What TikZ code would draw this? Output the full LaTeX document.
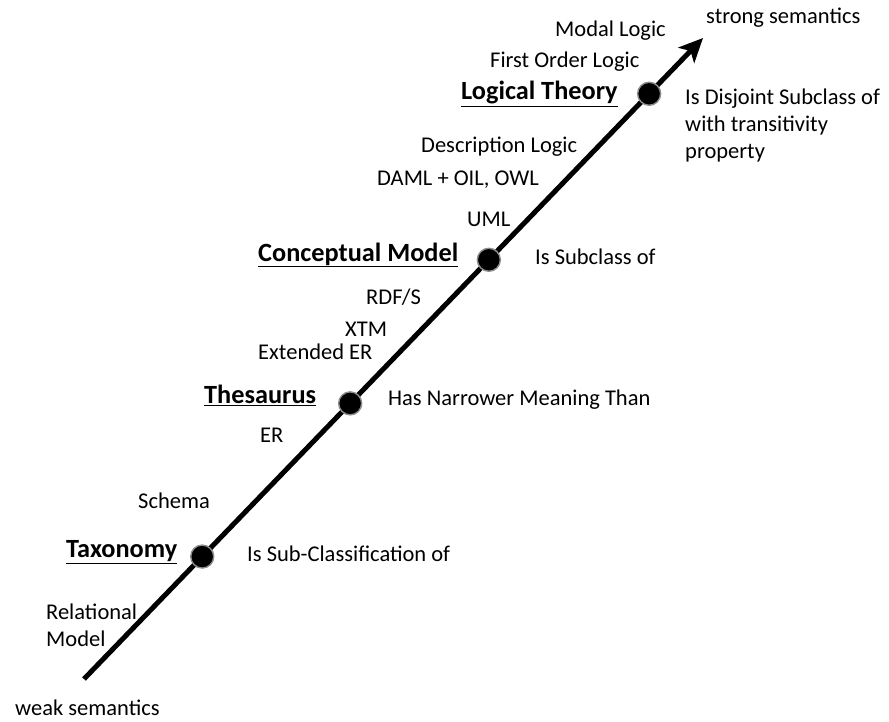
\documentclass[tikz,border=0pt]{standalone}
\usepackage{fontspec}
\setmainfont{Carlito}
\usetikzlibrary{arrows.meta,calc}
\begin{document}
\begin{tikzpicture}[x=1pt,y=-1pt,
  lbl/.style={inner sep=0pt,anchor=west,font=\fontsize{22.5}{27}\selectfont},
  level/.style={inner sep=0pt,anchor=west,font=\fontsize{26.3}{30}\selectfont\bfseries},
  dot/.style={circle,fill=black,draw=black!45,line width=1.4pt,minimum size=23pt,inner sep=0pt},
  axis/.style={line width=5pt,-{Stealth[length=24pt,width=22pt,inset=6pt]}}]
\useasboundingbox (0,0) rectangle (889,722);

% semantic scale
\coordinate (start) at (84,679);
\coordinate (tip) at (703,38);
\draw[axis] (start) -- (tip);

\node[dot] (tax) at ($(start)!0.191!(tip)$) {};
\node[dot] (the) at ($(start)!0.430!(tip)$) {};
\node[dot] (con) at ($(start)!0.654!(tip)$) {};
\node[dot] (log) at ($(start)!0.913!(tip)$) {};

% levels
\node[level] (ltax) at (66,552) {\underline{Taxonomy}};
\node[level] (lthe) at (204,395) {\underline{Thesaurus}};
\node[level] (lcon) at (258,255) {\underline{Conceptual Model}};
\node[level] (llog) at (461,94) {\underline{Logical Theory}};

% relations
\node[lbl] (rtax) at (247,554) {Is Sub-Classification of};
\node[lbl] (rthe) at (388,400) {Has Narrower Meaning Than};
\node[lbl] (rcon) at (535,257) {Is Subclass of};
\node[lbl,align=left,anchor=north west] (rlog) at (685,89) {Is Disjoint Subclass of\\with transitivity\\property};

% languages
\node[lbl,align=left,anchor=north west] (relm) at (46,604) {Relational\\Model};
\node[lbl] (sch) at (138,501) {Schema};
\node[lbl] (er) at (260,435) {ER};
\node[lbl] (eer) at (258,352) {Extended ER};
\node[lbl] (xtm) at (345,329) {XTM};
\node[lbl] (rdf) at (366,297) {RDF/S};
\node[lbl] (uml) at (467,219) {UML};
\node[lbl] (daml) at (377,180) {DAML + OIL, OWL};
\node[lbl] (dl) at (421,147) {Description Logic};
\node[lbl] (fol) at (490,62) {First Order Logic};
\node[lbl] (ml) at (555,31) {Modal Logic};

% ends of the scale
\node[lbl] (weak) at (15,708) {weak semantics};
\node[lbl] (strong) at (706,18) {strong semantics};
\end{tikzpicture}
\end{document}
